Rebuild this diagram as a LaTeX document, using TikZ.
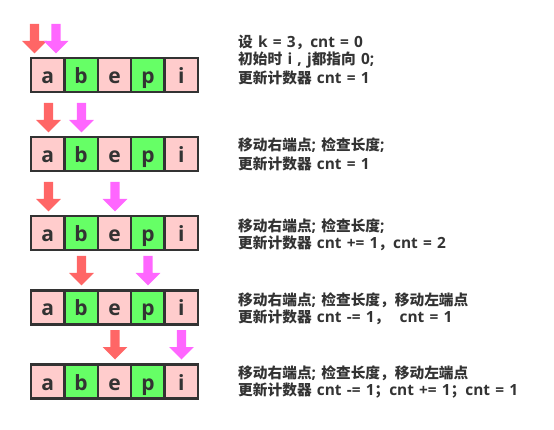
\documentclass[tikz,border=0pt]{standalone}
\usepackage{fontspec}
\setmainfont{Open Sans}
\newfontfamily\cjk{Noto Sans CJK SC}
\newcommand\zh[1]{{\cjk\bfseries\fontsize{14.7}{17}\selectfont #1}}
\newcommand\notefont{\bfseries\fontsize{15.4}{17}\selectfont\setlength{\spaceskip}{5.2pt}}
\definecolor{cellpink}{HTML}{FFCCCC}
\definecolor{cellgreen}{HTML}{66FF66}
\definecolor{ptrred}{HTML}{FF6666}
\definecolor{ptrmag}{HTML}{FF66FF}
\definecolor{ink}{HTML}{333333}
\tikzset{
  cell/.style={draw=ink, line width=2.4pt, minimum width=33.4pt, minimum height=34pt,
    inner sep=0pt, outer sep=0pt, text=ink, text height=18pt, text depth=1pt,
    font=\bfseries\fontsize{21}{21}\selectfont},
  pinkcell/.style={cell, fill=cellpink},
  greencell/.style={cell, fill=cellgreen},
  note/.style={anchor=west, inner sep=0pt, text=ink, font=\notefont},
  ptr/.pic={\fill (-4.6,0) -- (4.6,0) -- (4.6,17) -- (12.4,17) -- (0,29.5) -- (-12.4,17) -- (-4.6,17) -- cycle;}
}
\begin{document}
\begin{tikzpicture}[x=1pt,y=-1pt]
\useasboundingbox (0,0) rectangle (554,430);
% rows of cells
\foreach \r/\yc in {1/75,2/154,3/233,4/307.5,5/381.5}{
  \node[pinkcell]  (r\r a) at (47.7,\yc) {a};
  \node[greencell] (r\r b) at (81.1,\yc) {b};
  \node[pinkcell]  (r\r e) at (114.5,\yc) {e};
  \node[greencell] (r\r p) at (147.9,\yc) {p};
  \node[pinkcell]  (r\r i) at (181.3,\yc) {i};
}
% pointers
\pic[fill=ptrred] at (34.5,24) {ptr};
\pic[fill=ptrmag] at (56,24) {ptr};
\pic[fill=ptrred] at (48.5,103) {ptr};
\pic[fill=ptrmag] at (81.5,103) {ptr};
\pic[fill=ptrred] at (48.5,182) {ptr};
\pic[fill=ptrmag] at (115,182) {ptr};
\pic[fill=ptrred] at (81.5,256) {ptr};
\pic[fill=ptrmag] at (148,256) {ptr};
\pic[fill=ptrred] at (115,330) {ptr};
\pic[fill=ptrmag] at (181.5,330) {ptr};
% notes
\node[note] (t11) at (238,42.5) {\zh{设} k = 3\zh{，}cnt = 0};
\node[note] (t12) at (238,60) {\zh{初始时} i , j\zh{都指向} 0;};
\node[note] (t13) at (238,78) {\zh{更新计数器} cnt = 1};
\node[note] (t21) at (238,145) {\zh{移动右端点}; \zh{检查长度};};
\node[note] (t22) at (238,163.5) {\zh{更新计数器} cnt = 1};
\node[note] (t31) at (238,226) {\zh{移动右端点}; \zh{检查长度};};
\node[note] (t32) at (238,243.5) {\zh{更新计数器} cnt += 1\zh{，}cnt = 2};
\node[note] (t41) at (238,300) {\zh{移动右端点}; \zh{检查长度，移动左端点}};
\node[note] (t42) at (238,317.5) {\zh{更新计数器} cnt -= 1\zh{，}\ \ cnt = 1};
\node[note] (t51) at (238,373) {\zh{移动右端点}; \zh{检查长度，移动左端点}};
\node[note] (t52) at (238,390.5) {\zh{更新计数器} cnt -= 1\zh{；}cnt += 1\zh{；}cnt = 1};
\end{tikzpicture}
\end{document}
